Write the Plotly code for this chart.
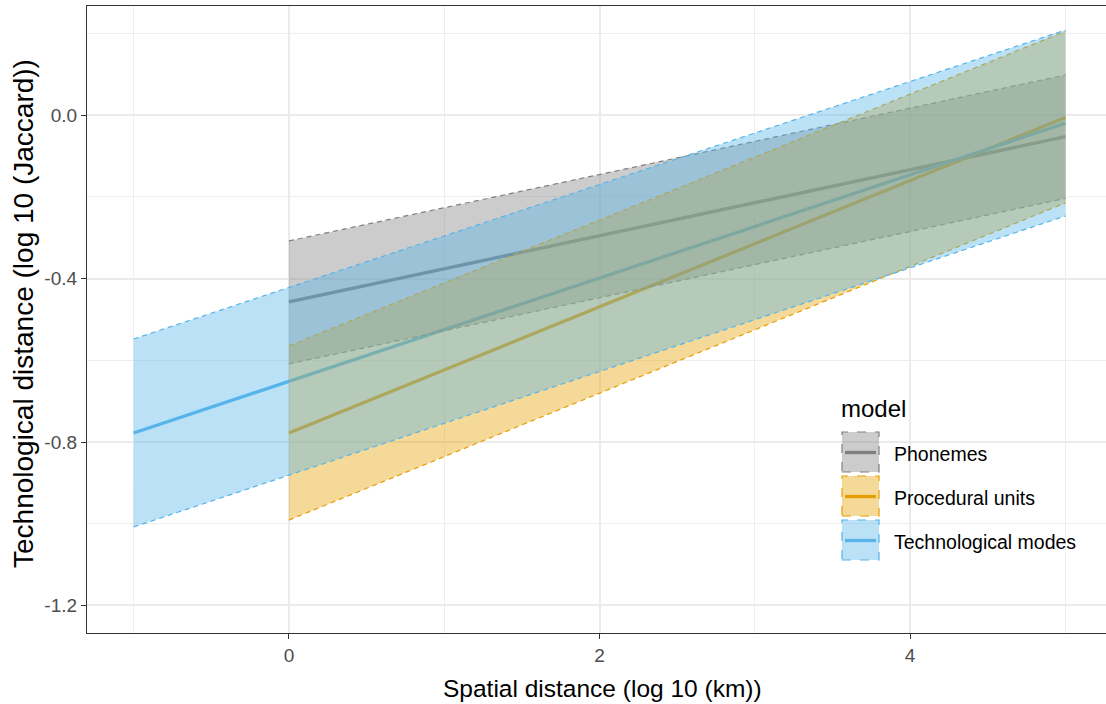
import plotly.graph_objects as go

# ---------------- data ----------------
models = ["Phonemes", "Procedural units", "Technological modes"]
colors = ["#7F7F7F", "#E69F00", "#56B4E9"]
fills = ["rgba(127,127,127,0.4)", "rgba(230,159,0,0.4)", "rgba(86,180,233,0.4)"]

phon_x = [0, 5]
phon_fit = [-0.457, -0.053]
phon_lo = [-0.609, -0.204]
phon_hi = [-0.308, 0.098]

proc_x = [0, 5]
proc_fit = [-0.778, -0.006]
proc_lo = [-0.991, -0.215]
proc_hi = [-0.565, 0.205]

tech_x = [-1, 5]
tech_fit = [-0.778, -0.020]
tech_lo = [-1.008, -0.247]
tech_hi = [-0.548, 0.208]

series = [
    (phon_x, phon_fit, phon_lo, phon_hi),
    (proc_x, proc_fit, proc_lo, proc_hi),
    (tech_x, tech_fit, tech_lo, tech_hi),
]

x_ticks = [0, 2, 4]
x_ticktext = ["0", "2", "4"]
y_ticks = [-1.2, -0.8, -0.4, 0.0]
y_ticktext = ["-1.2", "-0.8", "-0.4", "0.0"]

# ---------------- layout geometry ----------------
W, H = 1106, 704
ML, MR, MT, MB = 87, 0, 6, 71
FONT = "Liberation Sans, Arial, sans-serif"


def px2paper(px, py):
    return ((px - ML) / (W - ML - MR), (H - MB - py) / (H - MT - MB))


fig = go.Figure()

# lines first (ribbons drawn over them, like the original)
for (xs, fit, lo, hi), name, col in zip(series, models, colors):
    fig.add_trace(go.Scatter(x=xs, y=fit, mode="lines", line=dict(color=col, width=3.3),
                             name=name, showlegend=False, hoverinfo="skip"))

# ribbons with dashed outlines
for (xs, fit, lo, hi), name, col, fc in zip(series, models, colors, fills):
    fig.add_trace(go.Scatter(x=list(xs) + list(xs)[::-1], y=list(hi) + list(lo)[::-1],
                             mode="none", fill="toself", fillcolor=fc,
                             showlegend=False, hoverinfo="skip"))
    for arr in (hi, lo):
        fig.add_trace(go.Scatter(x=xs, y=arr, mode="lines",
                                 line=dict(color=col, width=1.2, dash="5px,4px"),
                                 showlegend=False, hoverinfo="skip"))

axis_common = dict(
    showline=True, linecolor="#333333", linewidth=1.2,
    ticks="outside", ticklen=5, tickcolor="#333333", tickwidth=1.2,
    gridcolor="#EBEBEB", gridwidth=1.5, zeroline=False,
    tickfont=dict(family=FONT, size=19, color="#4D4D4D"),
)

fig.update_xaxes(range=[-1.3, 5.261], tickvals=x_ticks, ticktext=x_ticktext, mirror=True,
                 minor=dict(dtick=1, tick0=-1, showgrid=True, gridcolor="#EEEEEE", gridwidth=1.0),
                 **axis_common)
fig.update_yaxes(range=[-1.2673, 0.2667], tickvals=y_ticks, ticktext=y_ticktext, mirror=False,
                 minor=dict(dtick=0.2, tick0=0, showgrid=True, gridcolor="#EEEEEE", gridwidth=1.0),
                 **axis_common)

annotations = []
shapes = []

# axis titles
xt = px2paper(602, 688)
annotations.append(dict(text="Spatial distance (log 10 (km))", xref="paper", yref="paper",
                        x=xt[0], y=xt[1], showarrow=False, xanchor="center", yanchor="middle",
                        font=dict(family=FONT, size=24.5, color="black")))
yt = px2paper(23, 314)
annotations.append(dict(text="Technological distance (log 10 (Jaccard))", xref="paper", yref="paper",
                        x=yt[0], y=yt[1], showarrow=False, xanchor="center", yanchor="middle",
                        textangle=-90, font=dict(family=FONT, size=28, color="black")))

# legend (manual)
lt = px2paper(839, 408)
annotations.append(dict(text="model", xref="paper", yref="paper", x=lt[0], y=lt[1],
                        showarrow=False, xanchor="left", yanchor="middle",
                        font=dict(family=FONT, size=24, color="black")))
key_tops = [432, 476, 520]
for name, col, fc, top in zip(models, colors, fills, key_tops):
    x0, y0 = px2paper(842, top + 40)
    x1, y1 = px2paper(879, top)
    shapes.append(dict(type="rect", xref="paper", yref="paper", x0=x0, y0=y0, x1=x1, y1=y1,
                       fillcolor=fc, line=dict(color=col, width=1.2, dash="dash")))
    lx0, ly = px2paper(845, top + 20.5)
    lx1, _ = px2paper(876, top + 20.5)
    shapes.append(dict(type="line", xref="paper", yref="paper", x0=lx0, y0=ly, x1=lx1, y1=ly,
                       line=dict(color=col, width=3.3)))
    tx, ty = px2paper(892, top + 22)
    annotations.append(dict(text=name, xref="paper", yref="paper", x=tx, y=ty,
                            showarrow=False, xanchor="left", yanchor="middle",
                            font=dict(family=FONT, size=19.5, color="black")))

fig.update_layout(
    width=W, height=H,
    margin=dict(l=ML, r=MR, t=MT, b=MB),
    paper_bgcolor="white", plot_bgcolor="white",
    showlegend=False,
    annotations=annotations, shapes=shapes,
    font=dict(family=FONT),
)

fig.write_html("out.html")
